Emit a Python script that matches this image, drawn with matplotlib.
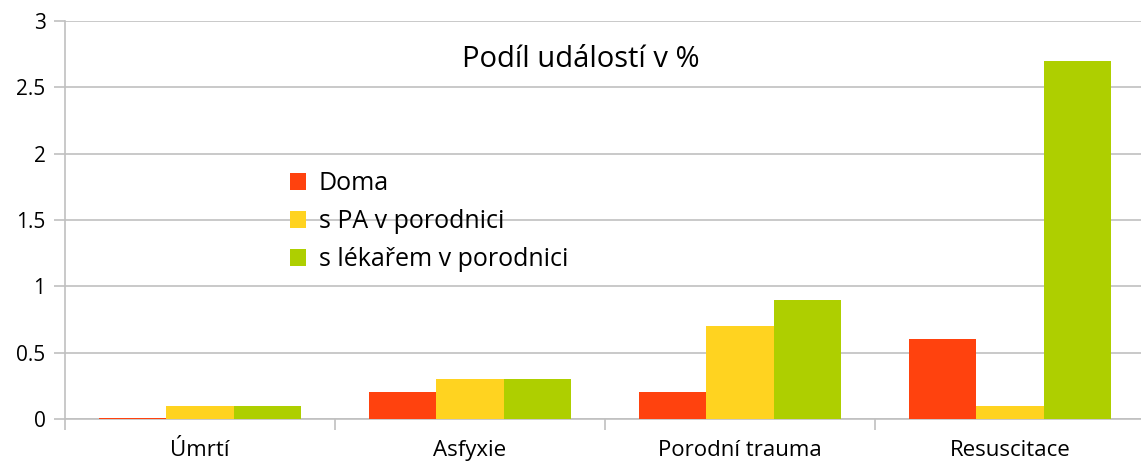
import matplotlib
matplotlib.use("Agg")
import matplotlib.pyplot as plt
import numpy as np

categories = ["Úmrtí", "Asfyxie", "Porodní trauma", "Resuscitace"]
series_names = ["Doma", "s PA v porodnici", "s lékařem v porodnici"]
doma = [0.01, 0.2, 0.2, 0.6]
s_pa = [0.1, 0.3, 0.7, 0.1]
s_lekarem = [0.1, 0.3, 0.9, 2.7]
yticks = [0, 0.5, 1, 1.5, 2, 2.5, 3]
ytick_labels = ["0", "0.5", "1", "1.5", "2", "2.5", "3"]
title = "Podíl událostí v %"

colors = ["#FF420E", "#FFD320", "#AECF00"]
plt.rcParams['font.family'] = ['Open Sans', 'DejaVu Sans']

W, H = 1141, 466
fig = plt.figure(figsize=(W / 100, H / 100), dpi=100)
left, right, top, bottom = 65, 1145, 21, 419
ax = fig.add_axes([left / W, 1 - bottom / H, (right - left) / W, (bottom - top) / H])

x = np.arange(len(categories))
bw = 0.25
for i, (vals, name) in enumerate(zip([doma, s_pa, s_lekarem], series_names)):
    ax.bar(x + (i - 1) * bw, vals, width=bw, color=colors[i], label=name, zorder=3)

ax.set_xlim(-0.5, len(categories) - 0.5)
ax.set_ylim(0, 3)
ax.set_yticks(yticks)
ax.set_yticklabels(ytick_labels)
ax.yaxis.grid(True, color="#c0c0c0", linewidth=1.2, zorder=0)
ax.set_xticks(x)
ax.set_xticklabels(categories)
ax.set_xticks(np.arange(-0.5, len(categories), 1.0), minor=True)
ax.tick_params(axis="x", which="major", length=0, pad=15, labelsize=16, colors="black")
ax.tick_params(axis="x", which="minor", length=8, width=1.2, color="#c0c0c0")
ax.tick_params(axis="y", length=8, width=1.2, color="#c0c0c0", pad=6, labelsize=15)
for s in ["top", "right"]:
    ax.spines[s].set_visible(False)
ax.spines["left"].set_color("#c0c0c0")
ax.spines["left"].set_linewidth(1.2)
ax.spines["bottom"].set_color("#c0c0c0")
ax.spines["bottom"].set_linewidth(1.2)

fig.text(581 / W, 1 - 60 / H, title, ha="center", va="center", fontsize=21)

fig.legend(loc="upper left", bbox_to_anchor=(290 / W, 1 - 171 / H), frameon=False,
           fontsize=18, handlelength=0.65, handleheight=0.65, handletextpad=0.5,
           labelspacing=0.52, borderaxespad=0, borderpad=0)

fig.savefig("out.png", dpi=100)
